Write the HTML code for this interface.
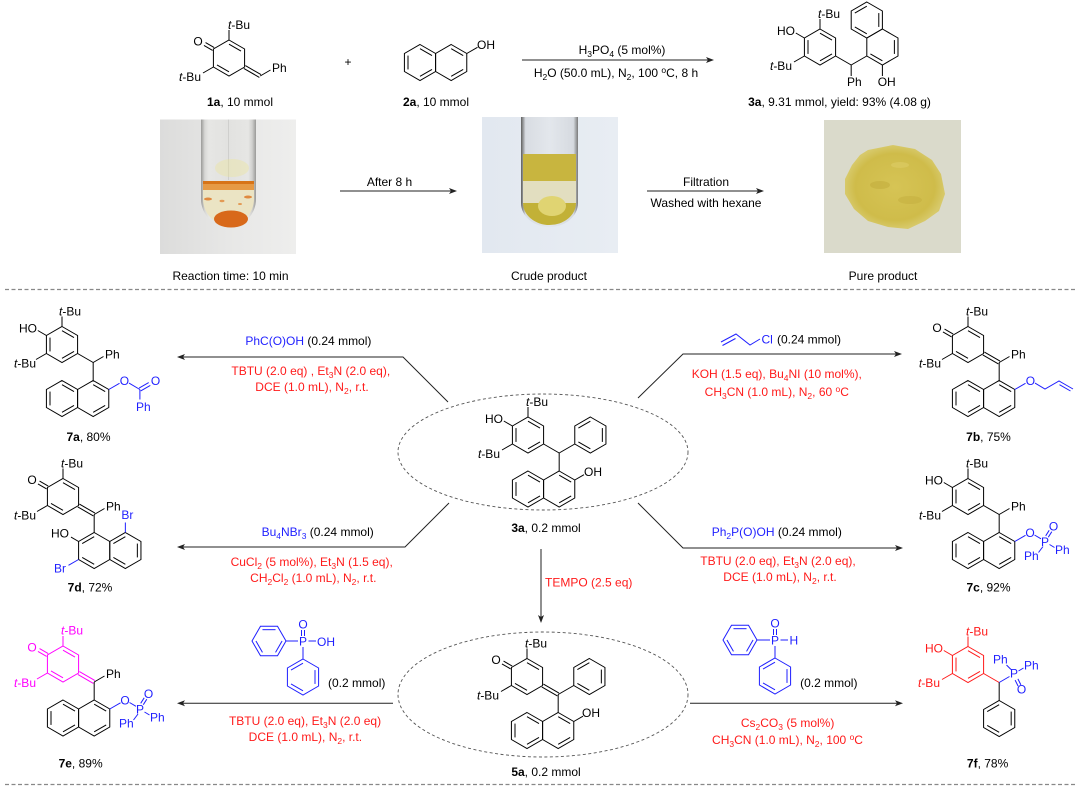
<!DOCTYPE html>
<html><head><meta charset="utf-8">
<style>
html,body{margin:0;padding:0;background:#fff;}
svg{display:block;}
text{stroke:none;fill:#000;font-family:"Liberation Sans",Arial,sans-serif;font-size:12px;}
.k{fill:none;stroke:#000;stroke-width:1;}
.kb{fill:none;stroke:#1f1fff;stroke-width:1;}
.kr{fill:none;stroke:#ff1a1a;stroke-width:1;}
.km{fill:none;stroke:#ff00ff;stroke-width:1;}
.tb{fill:#1f1fff;}
.tr{fill:#ff1a1a;}
.tm{fill:#ff00ff;}
.ar{fill:none;stroke:#222;stroke-width:1;}
.ah{fill:#222;stroke:none;}
</style></head><body>
<svg width="1080" height="787" viewBox="0 0 1080 787" xmlns="http://www.w3.org/2000/svg">
<defs>
<polygon id="hx" points="0,-18 15.59,-9 15.59,9 0,18 -15.59,9 -15.59,-9"/>
<line id="a" x1="0" y1="-13.84" x2="11.99" y2="-6.92"/>
<line id="b" x1="11.99" y1="-6.92" x2="11.99" y2="6.92"/>
<line id="c" x1="11.99" y1="6.92" x2="0" y2="13.84"/>
<line id="d" x1="0" y1="13.84" x2="-11.99" y2="6.92"/>
<line id="e" x1="-11.99" y1="6.92" x2="-11.99" y2="-6.92"/>
<line id="f" x1="-11.99" y1="-6.92" x2="0" y2="-13.84"/>
<polygon id="hf" points="17,0 8.5,14.72 -8.5,14.72 -17,0 -8.5,-14.72 8.5,-14.72"/>
<line id="ft" x1="-6.54" y1="-11.32" x2="6.54" y2="-11.32"/>
<line id="fr" x1="13.07" y1="0" x2="6.54" y2="11.32"/>
<line id="fl" x1="-6.54" y1="11.32" x2="-13.07" y2="0"/>
<g id="Q"><use href="#hx"/><use href="#a"/><use href="#d"/>
<path d="M-14.79,-10.39 L-23.45,-15.39 M-16.39,-7.61 L-25.05,-12.61 M0,-18 V-28 M-15.59,9 L-26,15 M16.39,7.6 L31.98,16.6 M14.79,10.4 L30.38,19.4"/></g>
<g id="P"><use href="#hx"/><use href="#a"/><use href="#c"/><use href="#e"/>
<path d="M-15.59,-9 L-24.2,-14 M0,-18 V-28 M-15.59,9 L-26,15 M15.59,9 L31.18,18"/></g>
<g id="N"><use href="#hx" x="0" y="54"/><use href="#e" x="0" y="54"/><use href="#a" x="0" y="54"/><use href="#c" x="0" y="54"/>
<use href="#hx" x="31.18" y="54"/><use href="#a" x="31.18" y="54"/><use href="#c" x="31.18" y="54"/>
<path d="M31.18,18 V36"/></g>
<g id="R"><use href="#hx" x="62.36" y="0"/><use href="#b" x="62.36" y="0"/><use href="#d" x="62.36" y="0"/><use href="#f" x="62.36" y="0"/>
<path d="M31.18,18 L46.77,9"/></g>
<g id="PO"><path d="M46.77,45 L57.5,38.8 M66.5,38.5 L73,42.3 M77.7,39.3 L81.2,33.8 M80.3,40.7 L83.8,35.2 M81.5,48 L86.5,51 M75,50 L70.5,56"/></g>
<linearGradient id="g1" x1="0" y1="0" x2="1" y2="0"><stop offset="0" stop-color="#dcdcdb"/><stop offset="0.5" stop-color="#e7e7e6"/><stop offset="1" stop-color="#eeeeed"/></linearGradient>
<linearGradient id="t1" x1="0" y1="0" x2="1" y2="0"><stop offset="0" stop-color="#9a9a98"/><stop offset="0.07" stop-color="#d8d8d6"/><stop offset="0.14" stop-color="#e6e6e4"/><stop offset="0.5" stop-color="#e2e2e0"/><stop offset="0.86" stop-color="#e6e6e4"/><stop offset="0.93" stop-color="#d0d0ce"/><stop offset="1" stop-color="#9a9a98"/></linearGradient>
<linearGradient id="g2" x1="0" y1="0" x2="1" y2="0"><stop offset="0" stop-color="#e2e8f0"/><stop offset="1" stop-color="#e8edf3"/></linearGradient>
<linearGradient id="t2" x1="0" y1="0" x2="1" y2="0"><stop offset="0" stop-color="#5e5e5e"/><stop offset="0.08" stop-color="#d8dce2"/><stop offset="0.5" stop-color="#e3e7ec"/><stop offset="0.92" stop-color="#d6dae0"/><stop offset="1" stop-color="#7a7a7a"/></linearGradient>
<radialGradient id="pw" cx="0.5" cy="0.5" r="0.5"><stop offset="0" stop-color="#d6c455"/><stop offset="0.8" stop-color="#cfbc4a"/><stop offset="1" stop-color="#d7c96a"/></radialGradient>
</defs>

<!-- ===== TOP ROW ===== -->
<g transform="translate(229,58)">
<g class="k"><use href="#Q"/><path d="M31.18,18 L41.5,12"/></g>
<text x="-31" y="-12.5" text-anchor="middle">O</text>
<text x="-1" y="-29"><tspan font-style="italic">t</tspan>-Bu</text>
<text x="-28" y="23" text-anchor="end"><tspan font-style="italic">t</tspan>-Bu</text>
<text x="43" y="14">Ph</text>
</g>
<text x="240" y="106" text-anchor="middle"><tspan font-weight="bold">1a</tspan>, 10 mmol</text>
<text x="348" y="66" text-anchor="middle">+</text>

<g class="k" transform="translate(420,62.5)">
<use href="#hx"/><use href="#e"/><use href="#a"/><use href="#c"/>
<use href="#hx" x="31.18"/><use href="#a" x="31.18"/><use href="#c" x="31.18"/>
<path d="M46.77,-9 L57.5,-15.2"/>
</g>
<text x="477" y="49">OH</text>
<text x="436" y="106" text-anchor="middle"><tspan font-weight="bold">2a</tspan>, 10 mmol</text>

<line class="ar" x1="522" y1="60" x2="708" y2="60"/>
<polygon class="ah" points="714,60 706,57 708,60 706,63"/>
<text x="622" y="54" text-anchor="middle">H<tspan dy="3" font-size="8.5">3</tspan><tspan dy="-3">PO</tspan><tspan dy="3" font-size="8.5">4</tspan><tspan dy="-3">  (5 mol%)</tspan></text>
<text x="616" y="77" text-anchor="middle">H<tspan dy="3" font-size="8.5">2</tspan><tspan dy="-3">O (50.0 mL), N</tspan><tspan dy="3" font-size="8.5">2</tspan><tspan dy="-3">, 100 </tspan><tspan dy="-4" font-size="8.5">o</tspan><tspan dy="4">C, 8 h</tspan></text>

<g transform="translate(820,47)">
<g class="k"><use href="#P"/>
<path d="M31.18,18 V29 M31.18,18 L46.77,9 M62.4,18 V29"/>
<use href="#hx" x="46.8" y="-27"/><use href="#b" x="46.8" y="-27"/><use href="#d" x="46.8" y="-27"/><use href="#f" x="46.8" y="-27"/>
<use href="#hx" x="62.4" y="0"/><use href="#b" x="62.4" y="0"/><use href="#d" x="62.4" y="0"/>
</g>
<text x="-25" y="-12" text-anchor="end">HO</text>
<text x="-2" y="-29"><tspan font-style="italic">t</tspan>-Bu</text>
<text x="-28" y="23" text-anchor="end"><tspan font-style="italic">t</tspan>-Bu</text>
<text x="27" y="39">Ph</text>
<text x="57.7" y="39">OH</text>
</g>
<text x="839.5" y="106" text-anchor="middle"><tspan font-weight="bold">3a</tspan>, 9.31 mmol, yield: 93% (4.08 g)</text>

<!-- Photo 1 -->
<rect x="160" y="119.5" width="136" height="134.5" fill="url(#g1)"/>
<path d="M201,119.5 V199 A27.5,28 0 0 0 256,199 V119.5 Z" fill="url(#t1)"/>
<line x1="228.5" y1="119.5" x2="228.5" y2="180" stroke="#cfcfcd" stroke-width="1"/>
<ellipse cx="232" cy="168" rx="17" ry="9" fill="#eee690" opacity="0.35"/>
<path d="M203,183 V199 A25.5,26 0 0 0 254,199 V183 Z" fill="#ebe4c4"/>
<rect x="203" y="181" width="51" height="3" fill="#d77418"/>
<rect x="203" y="184" width="51" height="6" fill="#e69a45"/>
<ellipse cx="231" cy="219" rx="17" ry="8.5" fill="#d8691a"/>
<ellipse cx="208" cy="199" rx="4" ry="1.5" fill="#e08a40"/>
<ellipse cx="248" cy="197" rx="4" ry="1.5" fill="#e08a40"/>
<ellipse cx="222" cy="201" rx="2.5" ry="1.2" fill="#e39a55"/>
<ellipse cx="240" cy="204" rx="2" ry="1" fill="#e39a55"/>

<!-- Photo 2 -->
<rect x="482" y="117" width="136" height="136" fill="url(#g2)"/>
<path d="M521,117 V203 A28.5,24 0 0 0 578,203 V117 Z" fill="url(#t2)"/>
<rect x="523" y="154" width="53" height="28" fill="#c8b53f"/>
<rect x="523" y="181" width="53" height="24" fill="#e2dec0"/>
<path d="M523,203 A26.5,22 0 0 0 576,203 Z" fill="#c2b137"/>
<ellipse cx="552" cy="206" rx="14" ry="10" fill="#e0d472"/>

<!-- Photo 3 -->
<rect x="824" y="120" width="137" height="133" fill="#dadacb"/>
<path d="M868,150 L893,145 L915,149 L932,160 L941,174 L945,194 L939,211 L925,221 L908,229 L888,227 L868,221 L854,209 L845,194 L845,179 L852,165 L860,155 Z" fill="url(#pw)"/>
<ellipse cx="880" cy="185" rx="10" ry="4" fill="#c3ae3e" opacity="0.6"/>
<ellipse cx="910" cy="200" rx="12" ry="4" fill="#c3ae3e" opacity="0.5"/>
<ellipse cx="900" cy="165" rx="9" ry="3" fill="#dccb62" opacity="0.7"/>

<line class="ar" x1="340" y1="191" x2="451" y2="191"/>
<polygon class="ah" points="457,191 449,188 451,191 449,194"/>
<text x="389.5" y="186" text-anchor="middle">After 8 h</text>
<line class="ar" x1="647" y1="191" x2="758" y2="191"/>
<polygon class="ah" points="764,191 756,188 758,191 756,194"/>
<text x="706" y="186" text-anchor="middle">Filtration</text>
<text x="706" y="207" text-anchor="middle">Washed with hexane</text>

<text x="230.5" y="280" text-anchor="middle">Reaction time: 10 min</text>
<text x="549" y="280" text-anchor="middle">Crude product</text>
<text x="883" y="280" text-anchor="middle">Pure product</text>

<line x1="5" y1="289.5" x2="1076" y2="289.5" stroke="#888" stroke-width="1.2" stroke-dasharray="4,2.5"/>

<!-- ===== MIDDLE ===== -->
<ellipse cx="543" cy="452" rx="145" ry="58" fill="none" stroke="#555" stroke-width="0.9" stroke-dasharray="3,2.5"/>
<g transform="translate(528,435)">
<g class="k"><use href="#P"/><use href="#R"/><use href="#N"/><path d="M46.77,45 L56,39.7"/></g>
<text x="-25" y="-12" text-anchor="end">HO</text>
<text x="-2" y="-29"><tspan font-style="italic">t</tspan>-Bu</text>
<text x="-28" y="23" text-anchor="end"><tspan font-style="italic">t</tspan>-Bu</text>
<text x="56" y="41">OH</text>
</g>
<text x="546" y="532" text-anchor="middle"><tspan font-weight="bold">3a</tspan>, 0.2 mmol</text>

<g transform="translate(62,344.5)">
<g class="k"><use href="#P"/><use href="#N"/><path d="M31.18,18 L41.5,12"/></g>
<g class="kb"><path d="M46.77,45 L57.5,38.8 M67,38.6 L77.9,45 M78.7,46.4 L88.3,40.9 M77.1,43.6 L86.7,38.1 M77.9,45 V55"/></g>
<text x="-25" y="-12" text-anchor="end">HO</text>
<text x="-3" y="-29"><tspan font-style="italic">t</tspan>-Bu</text>
<text x="-26" y="23" text-anchor="end"><tspan font-style="italic">t</tspan>-Bu</text>
<text x="43" y="14">Ph</text>
<text class="tb" x="62.4" y="40.5" text-anchor="middle">O</text>
<text class="tb" x="93.5" y="40.5" text-anchor="middle">O</text>
<text class="tb" x="74" y="66.5">Ph</text>
</g>
<text x="88.5" y="441" text-anchor="middle"><tspan font-weight="bold">7a</tspan>, 80%</text>

<polyline class="ar" points="448,402 403,357 183,357"/>
<polygon class="ah" points="177,357 185,354 183,357 185,360"/>
<text x="308.4" y="345" text-anchor="middle"><tspan class="tb">PhC(O)OH</tspan>  (0.24 mmol)</text>
<text class="tr" x="310.8" y="375" text-anchor="middle">TBTU (2.0 eq) , Et<tspan dy="3" font-size="8.5">3</tspan><tspan dy="-3">N (2.0 eq),</tspan></text>
<text class="tr" x="312" y="391" text-anchor="middle">DCE (1.0 mL), N<tspan dy="3" font-size="8.5">2</tspan><tspan dy="-3">, r.t.</tspan></text>

<g transform="translate(968,344.5)">
<g class="k"><use href="#Q"/><use href="#N"/><path d="M31.18,18 L41.5,12"/></g>
<g class="kb"><path d="M46.77,45 L57.5,38.8 M67,38.6 L77,44.5 L91,36.5 L105,44.5 M91.5,40.2 L102.5,46.5"/></g>
<text x="-31" y="-12.5" text-anchor="middle">O</text>
<text x="-2" y="-29"><tspan font-style="italic">t</tspan>-Bu</text>
<text x="-27" y="23" text-anchor="end"><tspan font-style="italic">t</tspan>-Bu</text>
<text x="43" y="14">Ph</text>
<text class="tb" x="62.4" y="40.5" text-anchor="middle">O</text>
</g>
<text x="988.5" y="441" text-anchor="middle"><tspan font-weight="bold">7b</tspan>, 75%</text>

<polyline class="ar" points="638,398 683,354 896,354"/>
<polygon class="ah" points="902,354 894,351 896,354 894,357"/>
<g class="kb"><path d="M721,342 L736,334 L750,345 L760,339 M722.5,345.5 L735.5,338.5"/></g>
<text class="tb" x="761.5" y="343.5">Cl</text>
<text x="777" y="343.5">(0.24 mmol)</text>
<text class="tr" x="776.8" y="378" text-anchor="middle">KOH (1.5 eq), Bu<tspan dy="3" font-size="8.5">4</tspan><tspan dy="-3">NI (10 mol%),</tspan></text>
<text class="tr" x="776.8" y="396" text-anchor="middle">CH<tspan dy="3" font-size="8.5">3</tspan><tspan dy="-3">CN (1.0 mL), N</tspan><tspan dy="3" font-size="8.5">2</tspan><tspan dy="-3">, 60 </tspan><tspan dy="-4" font-size="8.5">o</tspan><tspan dy="4">C</tspan></text>

<g transform="translate(63,496.5)">
<g class="k"><use href="#Q"/><path d="M31.18,18 L41.5,12 M31.18,18 V36 M15.59,45 L8,40.6"/>
<use href="#hx" x="31.18" y="54"/><use href="#f" x="31.18" y="54"/><use href="#d" x="31.18" y="54"/>
<use href="#hx" x="62.36" y="54"/><use href="#b" x="62.36" y="54"/><use href="#f" x="62.36" y="54"/><use href="#d" x="62.36" y="54"/>
</g>
<g class="kb"><path d="M15.59,63 L5.5,68.8 M62.36,36 V26"/></g>
<text x="-31" y="-12.5" text-anchor="middle">O</text>
<text x="-2" y="-29"><tspan font-style="italic">t</tspan>-Bu</text>
<text x="-27" y="23" text-anchor="end"><tspan font-style="italic">t</tspan>-Bu</text>
<text x="43" y="14">Ph</text>
<text x="6" y="41" text-anchor="end">HO</text>
<text class="tb" x="3" y="76" text-anchor="end">Br</text>
<text class="tb" x="58.4" y="22.5">Br</text>
</g>
<text x="90" y="591.5" text-anchor="middle"><tspan font-weight="bold">7d</tspan>, 72%</text>

<polyline class="ar" points="449,503 405,547 183,547"/>
<polygon class="ah" points="177,547 185,544 183,547 185,550"/>
<text x="317.7" y="536" text-anchor="middle"><tspan class="tb">Bu</tspan><tspan class="tb" dy="3" font-size="8.5">4</tspan><tspan class="tb" dy="-3">NBr</tspan><tspan class="tb" dy="3" font-size="8.5">3</tspan><tspan dy="-3"> (0.24 mmol)</tspan></text>
<text class="tr" x="311.7" y="566" text-anchor="middle">CuCl<tspan dy="3" font-size="8.5">2</tspan><tspan dy="-3"> (5 mol%), Et</tspan><tspan dy="3" font-size="8.5">3</tspan><tspan dy="-3">N (1.5 eq),</tspan></text>
<text class="tr" x="313.3" y="582" text-anchor="middle">CH<tspan dy="3" font-size="8.5">2</tspan><tspan dy="-3">Cl</tspan><tspan dy="3" font-size="8.5">2</tspan><tspan dy="-3"> (1.0 mL), N</tspan><tspan dy="3" font-size="8.5">2</tspan><tspan dy="-3">, r.t.</tspan></text>

<g transform="translate(968,496.5)">
<g class="k"><use href="#P"/><use href="#N"/><path d="M31.18,18 L41.5,12"/></g>
<g class="kb"><use href="#PO"/></g>
<text x="-25" y="-12" text-anchor="end">HO</text>
<text x="-2" y="-29"><tspan font-style="italic">t</tspan>-Bu</text>
<text x="-27" y="23" text-anchor="end"><tspan font-style="italic">t</tspan>-Bu</text>
<text x="43" y="14">Ph</text>
<text class="tb" x="62" y="40.5" text-anchor="middle">O</text>
<text class="tb" x="77" y="49.5" text-anchor="middle">P</text>
<text class="tb" x="85.5" y="34" text-anchor="middle">O</text>
<text class="tb" x="87" y="57.5">Ph</text>
<text class="tb" x="56" y="63.5">Ph</text>
</g>
<text x="988.5" y="591.5" text-anchor="middle"><tspan font-weight="bold">7c</tspan>, 92%</text>

<polyline class="ar" points="638,503 683,548 897,548"/>
<polygon class="ah" points="903,548 895,545 897,548 895,551"/>
<text x="776.8" y="536" text-anchor="middle"><tspan class="tb">Ph</tspan><tspan class="tb" dy="3" font-size="8.5">2</tspan><tspan class="tb" dy="-3">P(O)OH</tspan><tspan> (0.24 mmol)</tspan></text>
<text class="tr" x="778" y="565" text-anchor="middle">TBTU (2.0 eq), Et<tspan dy="3" font-size="8.5">3</tspan><tspan dy="-3">N (2.0 eq),</tspan></text>
<text class="tr" x="780" y="581" text-anchor="middle">DCE (1.0 mL), N<tspan dy="3" font-size="8.5">2</tspan><tspan dy="-3">, r.t.</tspan></text>

<line class="ar" x1="541" y1="549" x2="541" y2="617"/>
<polygon class="ah" points="541,623 538,615 541,617 544,615"/>
<text class="tr" x="545" y="586.5">TEMPO (2.5 eq)</text>

<!-- ===== BOTTOM ===== -->
<ellipse cx="543" cy="694.5" rx="145" ry="62.5" fill="none" stroke="#555" stroke-width="0.9" stroke-dasharray="3,2.5"/>
<g transform="translate(527,676.5)">
<g class="k"><use href="#Q"/><use href="#R"/><use href="#N"/><path d="M46.77,45 L56,39.7"/></g>
<text x="-31" y="-12.5" text-anchor="middle">O</text>
<text x="-2" y="-29"><tspan font-style="italic">t</tspan>-Bu</text>
<text x="-28" y="23" text-anchor="end"><tspan font-style="italic">t</tspan>-Bu</text>
<text x="55" y="40.5">OH</text>
</g>
<text x="546" y="776" text-anchor="middle"><tspan font-weight="bold">5a</tspan>, 0.2 mmol</text>

<g transform="translate(63,664)">
<g class="km"><use href="#Q"/></g>
<g class="k"><use href="#N"/><path d="M31.18,18 L41.5,12"/></g>
<g class="kb"><use href="#PO"/></g>
<text class="tm" x="-31" y="-12.5" text-anchor="middle">O</text>
<text class="tm" x="-2" y="-29.5"><tspan font-style="italic">t</tspan>-Bu</text>
<text class="tm" x="-27" y="23" text-anchor="end"><tspan font-style="italic">t</tspan>-Bu</text>
<text x="43" y="14">Ph</text>
<text class="tb" x="62" y="40.5" text-anchor="middle">O</text>
<text class="tb" x="77" y="49.5" text-anchor="middle">P</text>
<text class="tb" x="85.5" y="34" text-anchor="middle">O</text>
<text class="tb" x="87" y="57.5">Ph</text>
<text class="tb" x="56" y="63.5">Ph</text>
</g>
<text x="80.6" y="767.5" text-anchor="middle"><tspan font-weight="bold">7e</tspan>, 89%</text>

<line class="ar" x1="393" y1="703.3" x2="183" y2="703.3"/>
<polygon class="ah" points="177,703.3 185,700.3 183,703.3 185,706.3"/>
<g class="kb">
<use href="#hf" x="269" y="641"/><use href="#ft" x="269" y="641"/><use href="#fr" x="269" y="641"/><use href="#fl" x="269" y="641"/>
<path d="M286,641 H298 M301.5,636 V630 M304.5,636 V630 M308.5,641 H316 M303,647 V659"/>
<use href="#hx" x="303" y="677"/><use href="#b" x="303" y="677"/><use href="#d" x="303" y="677"/><use href="#f" x="303" y="677"/>
</g>
<text class="tb" x="303" y="645.5" text-anchor="middle">P</text>
<text class="tb" x="303" y="628.5" text-anchor="middle">O</text>
<text class="tb" x="317" y="646">OH</text>
<text x="356.7" y="687" text-anchor="middle">(0.2 mmol)</text>
<text class="tr" x="305" y="725" text-anchor="middle">TBTU (2.0 eq), Et<tspan dy="3" font-size="8.5">3</tspan><tspan dy="-3">N (2.0 eq)</tspan></text>
<text class="tr" x="305.4" y="741" text-anchor="middle">DCE (1.0 mL), N<tspan dy="3" font-size="8.5">2</tspan><tspan dy="-3">, r.t.</tspan></text>

<g transform="translate(968,664.5)">
<g class="kr"><use href="#P"/></g>
<g class="k"><path d="M31.18,18 V36"/><use href="#hx" x="31.18" y="54"/><use href="#b" x="31.18" y="54"/><use href="#d" x="31.18" y="54"/><use href="#f" x="31.18" y="54"/></g>
<g class="kb"><path d="M31.18,18 L41.5,12 M49.9,14.4 L52.9,20.4 M47.1,15.6 L50.1,21.6 M43,5 L38.5,0.5 M50.5,6.5 L55.5,3.5"/></g>
<text class="tr" x="-25" y="-12" text-anchor="end">HO</text>
<text class="tr" x="-2" y="-29"><tspan font-style="italic">t</tspan>-Bu</text>
<text class="tr" x="-28" y="22.5" text-anchor="end"><tspan font-style="italic">t</tspan>-Bu</text>
<text class="tb" x="46" y="13" text-anchor="middle">P</text>
<text class="tb" x="53.5" y="29" text-anchor="middle">O</text>
<text class="tb" x="25" y="-1">Ph</text>
<text class="tb" x="56" y="5">Ph</text>
</g>
<text x="987.6" y="767.5" text-anchor="middle"><tspan font-weight="bold">7f</tspan>, 78%</text>

<line class="ar" x1="690" y1="703.3" x2="897" y2="703.3"/>
<polygon class="ah" points="903,703.3 895,700.3 897,703.3 895,706.3"/>
<g class="kb">
<use href="#hf" x="740" y="640"/><use href="#ft" x="740" y="640"/><use href="#fr" x="740" y="640"/><use href="#fl" x="740" y="640"/>
<path d="M757,640 H770 M773.5,635 V629 M776.5,635 V629 M780.5,640 H788 M775,646 V658"/>
<use href="#hx" x="775" y="676"/><use href="#b" x="775" y="676"/><use href="#d" x="775" y="676"/><use href="#f" x="775" y="676"/>
</g>
<text class="tb" x="775" y="644.5" text-anchor="middle">P</text>
<text class="tb" x="775" y="627.5" text-anchor="middle">O</text>
<text class="tb" x="789.5" y="644.5">H</text>
<text x="828.8" y="687" text-anchor="middle">(0.2 mmol)</text>
<text class="tr" x="787.6" y="727" text-anchor="middle">Cs<tspan dy="3" font-size="8.5">2</tspan><tspan dy="-3">CO</tspan><tspan dy="3" font-size="8.5">3</tspan><tspan dy="-3"> (5 mol%)</tspan></text>
<text class="tr" x="787.5" y="744" text-anchor="middle">CH<tspan dy="3" font-size="8.5">3</tspan><tspan dy="-3">CN (1.0 mL), N</tspan><tspan dy="3" font-size="8.5">2</tspan><tspan dy="-3">, 100 </tspan><tspan dy="-4" font-size="8.5">o</tspan><tspan dy="4">C</tspan></text>

<line x1="5" y1="784.5" x2="1076" y2="784.5" stroke="#888" stroke-width="1.2" stroke-dasharray="4,2.5"/>
</svg>
</body></html>
